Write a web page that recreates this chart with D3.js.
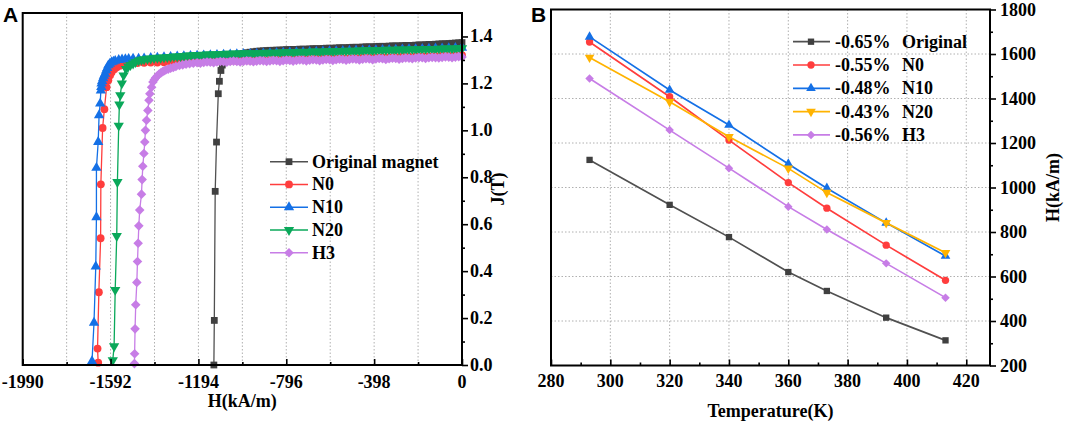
<!DOCTYPE html>
<html><head><meta charset="utf-8">
<script src="https://cdn.jsdelivr.net/npm/d3@7"></script>
<style>
body{margin:0;background:#fff;}
svg{display:block;}
svg text{font-family:'Liberation Serif','Times New Roman',serif;font-weight:bold;}
</style></head><body>
<svg id="chart" width="1065" height="426"></svg>
<script>
// ===================== Panel A data (J vs H) =====================
const legendA = ["Original magnet","N0","N10","N20","H3"];
const xTicksA = [-1990,-1592,-1194,-796,-398,0];
const xMinorA = [-1791,-1393,-995,-597,-199];
const xGridA  = [-1791,-1592,-1393,-1194,-995,-796,-597,-398,-199];
const yTicksA = [0,0.2,0.4,0.6,0.8,1.0,1.2,1.4];
const yMinorA = [0.1,0.3,0.5,0.7,0.9,1.1,1.3];

// steep part of each demagnetization curve, [H (kA/m), J (T)]
const origKnee = [[-1124,0.0],[-1122,0.19],[-1118,0.74],[-1112,0.95],[-1104,1.156],[-1099,1.209],[-1092,1.255],[-1086,1.278],[-1078,1.292],[-1066,1.303],[-1058,1.31]];
const n0Knee = [[-1648,0.01],[-1651,0.07],[-1645,0.31],[-1637,0.54],[-1636,0.77],[-1628,1.01],[-1620,1.09],[-1610,1.184],[-1602,1.213],[-1594,1.235],[-1587,1.248],[-1575,1.26],[-1564,1.269],[-1550,1.275],[-1530,1.281],[-1500,1.285],[-1470,1.287]];
const n10Knee = [[-1676,0.016],[-1667,0.18],[-1659,0.42],[-1656,0.63],[-1656,0.84],[-1648,0.95],[-1644,1.064],[-1639,1.114],[-1636,1.17],[-1634,1.185],[-1633,1.199],[-1630,1.21],[-1626,1.222],[-1622,1.232],[-1617,1.241],[-1612,1.255],[-1607,1.266],[-1602,1.277],[-1595,1.284],[-1587,1.29],[-1579,1.293],[-1571,1.296],[-1555,1.3],[-1540,1.302],[-1525,1.303],[-1510,1.304],[-1490,1.305],[-1465,1.305]];
const n20Knee = [[-1582,0.02],[-1576,0.08],[-1571,0.32],[-1564,0.55],[-1561,0.78],[-1555,1.02],[-1552,1.11],[-1548,1.15],[-1541,1.2],[-1533,1.234],[-1522,1.262],[-1512,1.272],[-1502,1.278],[-1490,1.285],[-1479,1.291],[-1465,1.298],[-1452,1.301]];
const h3Knee = [[-1484,0.006],[-1483,0.048],[-1481,0.154],[-1478,0.257],[-1473,0.352],[-1470,0.441],[-1467,0.519],[-1464,0.593],[-1460,0.66],[-1452,0.728],[-1449,0.79],[-1446,0.847],[-1441,0.901],[-1437,0.95],[-1434,1.0],[-1429,1.043],[-1423,1.085],[-1418,1.128],[-1414,1.156],[-1406,1.184],[-1400,1.206],[-1394,1.216],[-1388,1.224],[-1380,1.232],[-1372,1.24],[-1364,1.245],[-1356,1.25],[-1349,1.254],[-1342,1.257],[-1331,1.261],[-1320,1.265],[-1308,1.268],[-1296,1.272],[-1280,1.276],[-1265,1.279],[-1250,1.282],[-1234,1.284],[-1217,1.286]];

// flat part: H sampling grids and J readings (each J list ends at H = 0)
const hGrid = [-1440,-1410,-1380,-1350,-1320,-1290,-1260,-1230,-1200,-1170,-1140,-1110,-1080,-1050,-1020,-990,-960,-930,-900,-870,-840,-810,-780,-750,-720,-690,-660,-630,-600,-570,-540,-510,-480,-450,-420,-390,-360,-330,-300,-270,-240,-210,-180,-150,-120,-90,-60,-30,0];
const hGridFine = [-1440,-1425,-1410,-1395,-1380,-1365,-1350,-1335,-1320,-1305,-1290,-1275,-1260,-1245,-1230,-1215,-1200,-1185,-1170,-1155,-1140,-1125,-1110,-1095,-1080,-1065,-1050,-1035,-1020,-1005,-990,-975,-960,-945,-930,-915,-900,-885,-870,-855,-840,-825,-810,-795,-780,-765,-750,-735,-720,-705,-690,-675,-660,-645,-630,-615,-600,-585,-570,-555,-540,-525,-510,-495,-480,-465,-450,-435,-420,-405,-390,-375,-360,-345,-330,-315,-300,-285,-270,-255,-240,-225,-210,-195,-180,-165,-150,-135,-120,-105,-90,-75,-60,-45,-30,-15,0];
const origFlat = [1.316,1.319,1.322,1.325,1.328,1.331,1.333,1.335,1.337,1.338,1.339,1.340,1.341,1.341,1.342,1.342,1.343,1.344,1.344,1.345,1.345,1.346,1.346,1.346,1.347,1.348,1.348,1.348,1.349,1.350,1.350,1.350,1.351,1.352,1.352,1.352,1.353,1.354,1.354,1.354,1.355,1.356,1.356,1.356,1.357,1.358,1.358,1.358,1.359,1.360,1.360,1.360,1.361,1.362,1.362,1.362,1.363,1.364,1.364,1.365,1.366,1.366,1.367,1.368,1.369,1.369,1.370,1.371,1.372,1.373,1.374];
const n0Flat = [1.288,1.289,1.289,1.290,1.290,1.291,1.292,1.292,1.293,1.294,1.294,1.295,1.296,1.296,1.297,1.298,1.298,1.299,1.300,1.300,1.301,1.302,1.302,1.303,1.304,1.304,1.305,1.306,1.306,1.307,1.308,1.308,1.309,1.310,1.310,1.311,1.312,1.312,1.313,1.314,1.314,1.315,1.316,1.316,1.317,1.318,1.318,1.319,1.320];
const n10Flat = [1.306,1.308,1.310,1.312,1.313,1.315,1.316,1.317,1.318,1.319,1.320,1.321,1.322,1.323,1.324,1.325,1.326,1.327,1.328,1.329,1.330,1.331,1.332,1.333,1.333,1.334,1.335,1.336,1.337,1.337,1.338,1.339,1.340,1.340,1.341,1.342,1.343,1.343,1.344,1.345,1.346,1.346,1.347,1.348,1.349,1.349,1.350,1.351,1.352];
const n20Flat = [1.303,1.305,1.306,1.308,1.309,1.309,1.311,1.312,1.313,1.315,1.315,1.316,1.317,1.319,1.319,1.320,1.321,1.321,1.322,1.323,1.323,1.323,1.324,1.325,1.325,1.326,1.326,1.326,1.327,1.328,1.328,1.329,1.329,1.328,1.329,1.330,1.330,1.331,1.331,1.330,1.331,1.332,1.332,1.333,1.333,1.332,1.333,1.335,1.334,1.334,1.335,1.336,1.335,1.335,1.336,1.337,1.337,1.336,1.337,1.338,1.338,1.339,1.339,1.338,1.339,1.340,1.340,1.341,1.341,1.340,1.341,1.342,1.342,1.343,1.343,1.342,1.343,1.345,1.344,1.344,1.345,1.346,1.345,1.345,1.346,1.347,1.347,1.346,1.347,1.348,1.348,1.349,1.349,1.348,1.349,1.350,1.350];
const h3Flat = [1.288,1.286,1.289,1.291,1.290,1.288,1.291,1.293,1.292,1.290,1.293,1.295,1.293,1.291,1.294,1.296,1.295,1.292,1.295,1.297,1.296,1.293,1.296,1.298,1.297,1.294,1.297,1.299,1.298,1.295,1.298,1.300,1.299,1.296,1.299,1.301,1.300,1.297,1.300,1.302,1.301,1.298,1.301,1.303,1.302,1.299,1.302,1.304,1.303,1.300,1.303,1.305,1.304,1.301,1.304,1.306,1.305,1.302,1.305,1.307,1.306,1.303,1.306,1.308,1.307,1.305,1.308,1.310,1.309,1.306,1.309,1.311,1.310,1.308,1.311,1.313,1.312,1.309,1.312,1.314,1.313];

// ===================== Panel B data (H vs T) =====================
const temps = [293,320,340,360,373,393,413];
const hOriginal = [1124,922,777,620,535,415,313];
const hN0  = [1654,1408,1213,1022,907,741,583];
const hN10 = [1677,1438,1281,1106,997,841,692];
const hN20 = [1584,1385,1228,1086,977,841,707];
const hH3  = [1490,1258,1087,914,811,659,505];
const coefB = ["-0.65%","-0.55%","-0.48%","-0.43%","-0.56%"];
const namesB = ["Original","N0","N10","N20","H3"];
const xTicksB = [280,300,320,340,360,380,400,420];
const xMinorB = [290,310,330,350,370,390,410];
const yTicksB = [200,400,600,800,1000,1200,1400,1600,1800];
const yMinorB = [300,500,700,900,1100,1300,1500,1700];

// ===================== drawing =====================
const SERIF = "'Liberation Serif','Times New Roman',serif";
const SANS = "'Liberation Sans',Arial,sans-serif";
const svg = d3.select("#chart");

function markerPath(type, size){
  if(type==="circle") return d3.symbol(d3.symbolCircle, size)();
  if(type==="tri"||type==="tridown") return d3.symbol(d3.symbolTriangle, size)();
  return d3.symbol(d3.symbolSquare, size)();
}
function markerRot(type){ return type==="tridown"?180:(type==="diamond"?45:0); }

function tickLines(g){
  g.select(".domain").remove();
  g.selectAll("text").remove();
  g.selectAll("line").attr("stroke","#000").attr("stroke-width",1.6);
}
function addText(g, x, y, txt, opts){
  opts = opts || {};
  const t = g.append("text").attr("x",x).attr("y",y).text(txt)
    .style("font-family", opts.sans?SANS:SERIF).style("font-weight","bold")
    .style("font-size", (opts.fs||18)+"px").attr("fill","#000");
  if(opts.anchor) t.attr("text-anchor",opts.anchor);
  if(opts.rot) t.attr("transform",`rotate(${opts.rot},${x},${y})`);
  return t;
}

// ---------- Panel A ----------
const xA = d3.scaleLinear().domain([-1990,0]).range([22.7,462]);
const yA = d3.scaleLinear().domain([0,1.5]).range([365,13]);
const gA = svg.append("g");

gA.selectAll("line.grid").data(xGridA).join("line")
  .attr("x1",d=>xA(d)).attr("x2",d=>xA(d)).attr("y1",yA(1.5)).attr("y2",yA(0))
  .attr("stroke","#b0b0b0").attr("stroke-width",1).attr("stroke-dasharray","1.5,2");

const seriesA = [
  {knee:origKnee, flat:origFlat, grid:hGridFine, color:"#505050", mcolor:"#404040", sym:"square", size:46},
  {knee:n0Knee,   flat:n0Flat,   grid:hGrid,     color:"#ff3d3d", mcolor:"#ff3d3d", sym:"circle", size:48},
  {knee:n10Knee,  flat:n10Flat,  grid:hGrid,     color:"#1470e6", mcolor:"#1470e6", sym:"tri", size:46},
  {knee:n20Knee,  flat:n20Flat,  grid:hGridFine, color:"#0aa85a", mcolor:"#0aa85a", sym:"tridown", size:46},
  {knee:h3Knee,   flat:h3Flat,   grid:hGridFine, color:"#c77de6", mcolor:"#c77de6", sym:"diamond", size:46}
];
const lineA = d3.line().x(d=>xA(d[0])).y(d=>yA(d[1]));
seriesA.forEach(s=>{
  const off = s.grid.length - s.flat.length;
  const pts = s.knee.concat(s.flat.map((j,i)=>[s.grid[off+i], j]));
  gA.append("path").datum(pts).attr("d",lineA).attr("fill","none")
    .attr("stroke",s.color).attr("stroke-width",1.3);
  gA.append("g").selectAll("path").data(pts).join("path")
    .attr("d",markerPath(s.sym,s.size))
    .attr("transform",d=>`translate(${xA(d[0])},${yA(d[1])}) rotate(${markerRot(s.sym)})`)
    .attr("fill",s.mcolor);
});

// axes A: tick marks via d3.axis, labels as bold serif text
gA.append("g").attr("transform",`translate(0,${yA(0)})`)
  .call(d3.axisBottom(xA).tickValues(xTicksA).tickSize(-6)).call(tickLines);
gA.append("g").attr("transform",`translate(0,${yA(0)})`)
  .call(d3.axisBottom(xA).tickValues(xMinorA).tickSize(-3)).call(tickLines);
gA.append("g").attr("transform",`translate(${xA(0)},0)`)
  .call(d3.axisRight(yA).tickValues(yTicksA).tickSize(6)).call(tickLines);
gA.append("g").attr("transform",`translate(${xA(0)},0)`)
  .call(d3.axisRight(yA).tickValues(yMinorA).tickSize(3)).call(tickLines);
xTicksA.forEach(v=>addText(gA, xA(v), yA(0)+23, String(v), {anchor:"middle"}));
yTicksA.forEach(v=>addText(gA, xA(0)+8, yA(v)+6, d3.format(".1f")(v), {}));
gA.append("rect").attr("x",xA(-1990)).attr("y",yA(1.5))
  .attr("width",xA(0)-xA(-1990)).attr("height",yA(0)-yA(1.5))
  .attr("fill","none").attr("stroke","#000").attr("stroke-width",2);

addText(gA,(xA(-1990)+xA(0))/2,407,"H(kA/m)",{anchor:"middle"});
addText(gA,504,(yA(0)+yA(1.5))/2,"J(T)",{anchor:"middle",rot:-90});
addText(gA,3,22,"A",{sans:true,fs:21});

// legend A
const legA = gA.append("g");
legendA.forEach((name,i)=>{
  const s = seriesA[i]; const y = 161.7 + i*22.75;
  legA.append("line").attr("x1",270).attr("x2",308).attr("y1",y).attr("y2",y)
    .attr("stroke",s.color).attr("stroke-width",1.5);
  legA.append("path").attr("d",markerPath(s.sym,s.size))
    .attr("transform",`translate(289,${y}) rotate(${markerRot(s.sym)})`).attr("fill",s.mcolor);
  addText(legA,312,y+6,name);
});

// ---------- Panel B ----------
const xB = d3.scaleLinear().domain([280,428]).range([551,990]);
const yB = d3.scaleLinear().domain([200,1800]).range([365.5,9.5]);
const gB = svg.append("g");

gB.selectAll("line.gx").data(xTicksB.slice(1)).join("line")
  .attr("x1",d=>xB(d)).attr("x2",d=>xB(d)).attr("y1",yB(1800)).attr("y2",yB(200))
  .attr("stroke","#b0b0b0").attr("stroke-width",1).attr("stroke-dasharray","1.5,2");
gB.selectAll("line.gy").data(yTicksB.slice(1,-1)).join("line")
  .attr("x1",xB(280)).attr("x2",xB(428)).attr("y1",d=>yB(d)).attr("y2",d=>yB(d))
  .attr("stroke","#b0b0b0").attr("stroke-width",1).attr("stroke-dasharray","1.5,2");

const seriesB = [
  {vals:hOriginal, color:"#505050", mcolor:"#404040", sym:"square", size:40},
  {vals:hN0,  color:"#ff3d3d", mcolor:"#ff3d3d", sym:"circle", size:42},
  {vals:hN10, color:"#1470e6", mcolor:"#1470e6", sym:"tri", size:40},
  {vals:hN20, color:"#ffb300", mcolor:"#ffb300", sym:"tridown", size:40},
  {vals:hH3,  color:"#c77de6", mcolor:"#c77de6", sym:"diamond", size:36}
];
const lineB = d3.line().x(d=>xB(d[0])).y(d=>yB(d[1]));
seriesB.forEach(s=>{
  const pts = temps.map((t,i)=>[t, s.vals[i]]);
  gB.append("path").datum(pts).attr("d",lineB).attr("fill","none")
    .attr("stroke",s.color).attr("stroke-width",1.7);
  gB.append("g").selectAll("path").data(pts).join("path")
    .attr("d",markerPath(s.sym,s.size))
    .attr("transform",d=>`translate(${xB(d[0])},${yB(d[1])}) rotate(${markerRot(s.sym)})`)
    .attr("fill",s.mcolor);
});

gB.append("g").attr("transform",`translate(0,${yB(200)})`)
  .call(d3.axisBottom(xB).tickValues(xTicksB).tickSize(-6)).call(tickLines);
gB.append("g").attr("transform",`translate(0,${yB(200)})`)
  .call(d3.axisBottom(xB).tickValues(xMinorB).tickSize(-3)).call(tickLines);
gB.append("g").attr("transform",`translate(${xB(428)},0)`)
  .call(d3.axisRight(yB).tickValues(yTicksB).tickSize(6)).call(tickLines);
gB.append("g").attr("transform",`translate(${xB(428)},0)`)
  .call(d3.axisRight(yB).tickValues(yMinorB).tickSize(3)).call(tickLines);
xTicksB.forEach(v=>addText(gB, xB(v), yB(200)+21, String(v), {anchor:"middle"}));
yTicksB.forEach(v=>addText(gB, xB(428)+10, yB(v)+6, String(v), {}));
gB.append("rect").attr("x",xB(280)).attr("y",yB(1800))
  .attr("width",xB(428)-xB(280)).attr("height",yB(200)-yB(1800))
  .attr("fill","none").attr("stroke","#000").attr("stroke-width",2);

addText(gB,(xB(280)+xB(428))/2,417,"Temperature(K)",{anchor:"middle"});
addText(gB,1059,(yB(200)+yB(1800))/2,"H(kA/m)",{anchor:"middle",rot:-90});
addText(gB,531,22,"B",{sans:true,fs:21});

const legB = gB.append("g");
namesB.forEach((name,i)=>{
  const s = seriesB[i]; const y = 41.7 + i*23.3;
  legB.append("line").attr("x1",793).attr("x2",830).attr("y1",y).attr("y2",y)
    .attr("stroke",s.color).attr("stroke-width",1.7);
  legB.append("path").attr("d",markerPath(s.sym,s.size))
    .attr("transform",`translate(811,${y}) rotate(${markerRot(s.sym)})`).attr("fill",s.mcolor);
  addText(legB,835,y+6,coefB[i]);
  addText(legB,902,y+6,name);
});
</script>
</body></html>
